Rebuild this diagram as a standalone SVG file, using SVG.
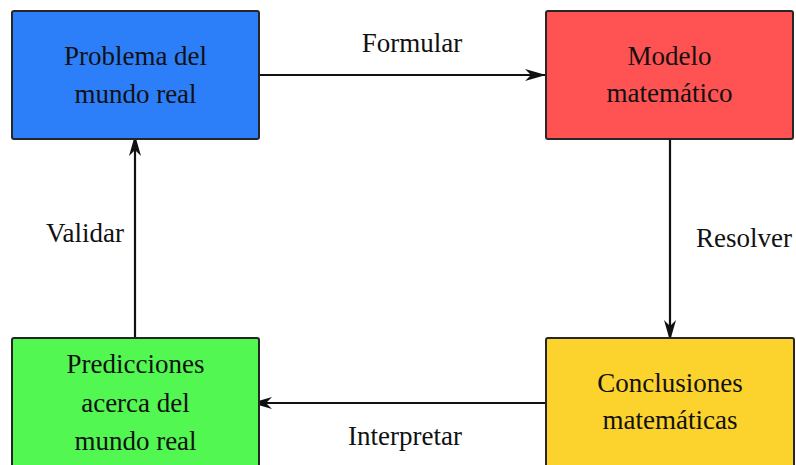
<svg xmlns="http://www.w3.org/2000/svg" width="796" height="465" viewBox="0 0 796 465">
  <defs>
    <style>
      .box { stroke: #262626; stroke-width: 2; }
      .t { font-family: "Liberation Serif", "Times New Roman", serif; font-size: 27px; fill: #111; text-anchor: middle; }
      .c { stroke: #111; stroke-width: 2.2; fill: none; }
    </style>
    <marker id="ah" markerUnits="userSpaceOnUse" markerWidth="22" markerHeight="14" refX="21" refY="7" orient="auto">
      <path d="M0,1 L21,7 L0,13 L6,7 Z" fill="#111"/>
    </marker>
  </defs>
  <rect width="796" height="465" fill="#fff"/>
  <g id="connectors">
    <line class="c" x1="260" y1="75" x2="546" y2="75" marker-end="url(#ah)"/>
    <line class="c" x1="670" y1="140" x2="670" y2="341" marker-end="url(#ah)"/>
    <line class="c" x1="545" y1="403" x2="251" y2="403" marker-end="url(#ah)"/>
    <line class="c" x1="135" y1="338" x2="135" y2="135" marker-end="url(#ah)"/>
    <text class="t" x="412" y="52">Formular</text>
    <text class="t" x="744" y="247">Resolver</text>
    <text class="t" x="405" y="445">Interpretar</text>
    <text class="t" x="85" y="242">Validar</text>
  </g>
  <g id="problema">
    <rect class="box" x="12" y="11" width="247" height="128" rx="2" fill="#2d7ff9"/>
    <text class="t" x="135.5" y="65">Problema del</text>
    <text class="t" x="135.5" y="103">mundo real</text>
  </g>
  <g id="modelo">
    <rect class="box" x="546" y="11" width="247" height="128" rx="2" fill="#ff5252"/>
    <text class="t" x="669.5" y="65">Modelo</text>
    <text class="t" x="669.5" y="102">matemático</text>
  </g>
  <g id="conclusiones">
    <rect class="box" x="546" y="338" width="248" height="140" rx="2" fill="#fcd22c"/>
    <text class="t" x="670" y="392">Conclusiones</text>
    <text class="t" x="670" y="429">matemáticas</text>
  </g>
  <g id="predicciones">
    <rect class="box" x="12" y="338" width="247" height="140" rx="2" fill="#52f752"/>
    <text class="t" x="135.5" y="373">Predicciones</text>
    <text class="t" x="135.5" y="412">acerca del</text>
    <text class="t" x="135.5" y="450">mundo real</text>
  </g>
</svg>
